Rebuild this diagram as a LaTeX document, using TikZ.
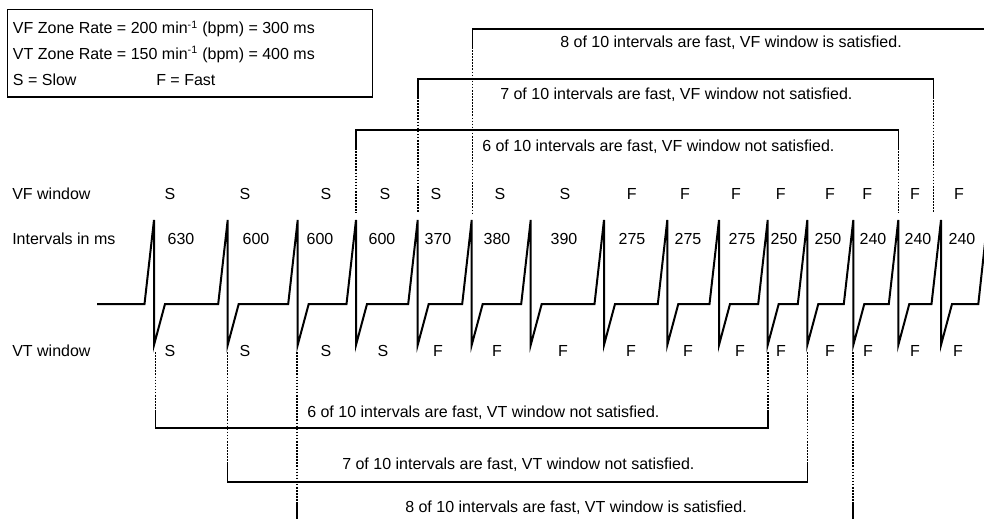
\documentclass[tikz,border=0pt]{standalone}
\usepackage{fontspec}
\setmainfont{Liberation Sans}
\begin{document}
\begin{tikzpicture}[x=0.75pt,y=-0.75pt,
  lbl/.style={font=\fontsize{12pt}{14pt}\selectfont, inner sep=0pt},
  wave/.style={line width=1.5pt, line join=miter},
  brk/.style={line width=1.1pt},
  dotline/.style={line width=0.8pt, dash pattern=on 1.2pt off 1.1pt}]
\useasboundingbox (0,0) rectangle (984,518);
\clip (0,0) rectangle (984,518);
\fill[white] (0,0) rectangle (984,518);

% legend
\draw[brk] (7.3,9.3) rectangle (372.7,97);
\node[lbl,anchor=west] (leg1) at (12.7,29) {VF Zone Rate = 200 min\textsuperscript{-1} (bpm) = 300 ms};
\node[lbl,anchor=west] (leg2) at (12.7,54.5) {VT Zone Rate = 150 min\textsuperscript{-1} (bpm) = 400 ms};
\node[lbl,anchor=west] (leg3) at (12.7,80) {S = Slow};
\node[lbl,anchor=west] (leg4) at (156,80) {F = Fast};

% row labels
\node[lbl,anchor=west] (rvf) at (12,194) {VF window};
\node[lbl,anchor=west] (riv) at (12,239) {Intervals in ms};
\node[lbl,anchor=west] (rvt) at (12,351) {VT window};

% waveform
\draw[wave] (97,304)
  \foreach \x in {154,227.7,297.7,356,417.7,471.7,530.7,604,667.3,719,767.7,807.3,853.3,898.3,941}
    { -- (\x-9.5,304) -- (\x,220) -- (\x,345) -- (\x+11,304) }
  -- (978.3,304) -- (987.5,220);

% VF window labels
\foreach \x/\t [count=\i] in {170/S,245/S,326/S,385/S,436/S,500/S,565/S,631.7/F,685/F,736/F,780.7/F,830/F,867.3/F,915/F,959/F}
  \node[lbl] (vf\i) at (\x,194) {\t};
% interval labels
\foreach \x/\t [count=\i] in {181/630,256/600,320/600,382/600,438/370,497/380,564/390,632/275,688/275,742/275,784/250,828/250,873/240,918/240,962/240}
  \node[lbl] (iv\i) at (\x,239) {\t};
% VT window labels
\foreach \x/\t [count=\i] in {170/S,245/S,326/S,383/S,438/F,497/F,563/F,631/F,688/F,740/F,781/F,830/F,868/F,915/F,958/F}
  \node[lbl] (vt\i) at (\x,351) {\t};

% VF brackets
\coordinate (a8l) at (472.7,29);
\draw[brk] (472.7,47) -- (a8l) -- (990,29);
\draw[dotline] (472.7,47) -- (472.7,213);
\node[lbl,anchor=west] (t8vf) at (560,43) {8 of 10 intervals are fast, VF window is satisfied.};

\draw[brk] (418,97) -- (418,79) -- (933.3,79) -- (933.3,97);
\draw[dotline] (418,97) -- (418,213);
\draw[dotline] (933.3,97) -- (933.3,213);
\node[lbl,anchor=west] (t7vf) at (500,95) {7 of 10 intervals are fast, VF window not satisfied.};

\draw[brk] (356,148) -- (356,130) -- (898.3,130) -- (898.3,148);
\draw[dotline] (356,148) -- (356,213);
\draw[dotline] (898.3,148) -- (898.3,213);
\node[lbl,anchor=west] (t6vf) at (482,147) {6 of 10 intervals are fast, VF window not satisfied.};

% VT brackets
\draw[dotline] (155.5,352) -- (155.5,410);
\draw[dotline] (768,352) -- (768,410);
\draw[brk] (155.5,410) -- (155.5,428) -- (768,428) -- (768,410);
\node[lbl,anchor=west] (t6vt) at (307,413) {6 of 10 intervals are fast, VT window not satisfied.};

\draw[dotline] (227.5,352) -- (227.5,464);
\draw[dotline] (807.7,352) -- (807.7,464);
\draw[brk] (227.5,464) -- (227.5,482) -- (807.7,482) -- (807.7,464);
\node[lbl,anchor=west] (t7vt) at (342,465) {7 of 10 intervals are fast, VT window not satisfied.};

\draw[dotline] (297,352) -- (297,502);
\draw[dotline] (853,352) -- (853,502);
\draw[brk] (297,502) -- (297,525);
\draw[brk] (853,502) -- (853,525);
\node[lbl,anchor=west] (t8vt) at (405,508) {8 of 10 intervals are fast, VT window is satisfied.};
\end{tikzpicture}
\end{document}
